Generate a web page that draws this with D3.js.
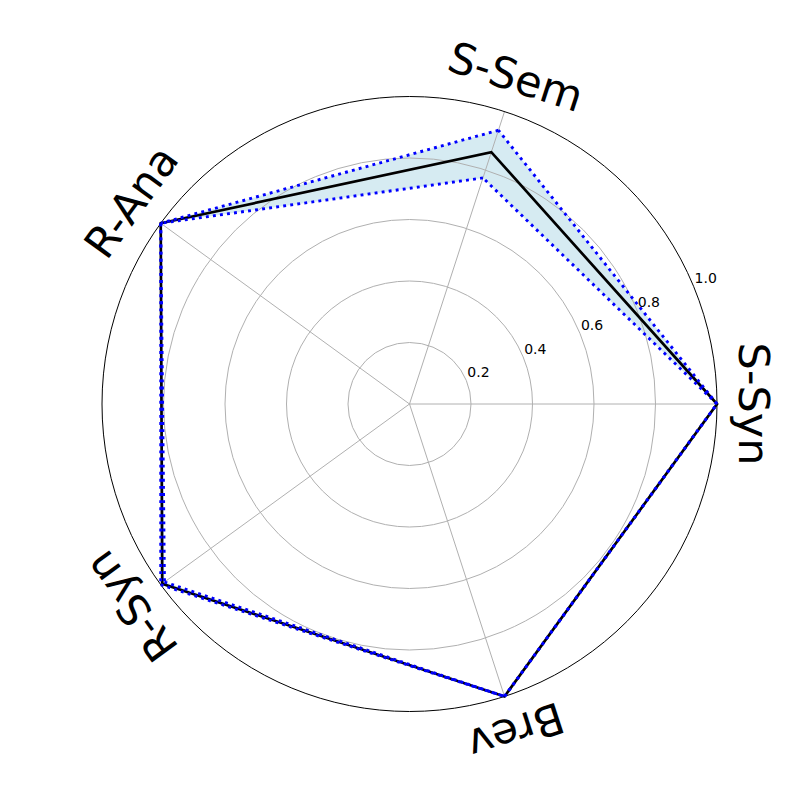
<!DOCTYPE html>
<html>
<head>
<meta charset="utf-8">
<script src="https://cdn.jsdelivr.net/npm/d3@7"></script>
<style>
  html,body{margin:0;padding:0;background:#fff;}
  text{font-family:"DejaVu Sans",sans-serif;}
</style>
</head>
<body>
<div id="chart"></div>
<script>
"use strict"

const categories=["S-Syn","S-Sem","R-Ana","R-Syn","Brev"];
const meanScores=[1.0,0.861,1.0,0.994,1.0];
const upperScores=[1.0,0.936,1.0,1.0,1.0];
const lowerScores=[1.0,0.773,1.0,0.985,1.0];
const radialTicks=[0.2,0.4,0.6,0.8,1.0];

const width=800, height=800;
const cx=409.5, cy=404, outerR=307.5;

const svg=d3.select("#chart").append("svg")
    .attr("width",width).attr("height",height)
    .style("background","#fff");

const g=svg.append("g").attr("transform",`translate(${cx},${cy})`);

const r=d3.scaleLinear().domain([0,1]).range([0,outerR]);
// math angle (ccw from 3 o'clock) for each category
const theta=d3.scaleLinear().domain([0,categories.length]).range([0,2*Math.PI]);
// d3 radial angle: 0 at 12 o'clock, clockwise
const d3Angle=i=>Math.PI/2-theta(i);

const idx=d3.range(categories.length);

// fill between lower and upper
const band=d3.areaRadial()
    .angle(d3Angle)
    .innerRadius(i=>r(lowerScores[i]))
    .outerRadius(i=>r(upperScores[i]))
    .curve(d3.curveLinearClosed);

g.append("path")
    .attr("d",band(idx))
    .attr("fill","#add8e6")
    .attr("fill-opacity",0.5)
    .attr("stroke","none");

// grid circles
g.selectAll(".grid-circle")
    .data(radialTicks.slice(0,-1))
    .enter().append("circle")
    .attr("class","grid-circle")
    .attr("r",d=>r(d))
    .attr("fill","none")
    .attr("stroke","#b0b0b0")
    .attr("stroke-width",1);

// spokes
g.selectAll(".spoke")
    .data(idx)
    .enter().append("line")
    .attr("class","spoke")
    .attr("x1",0).attr("y1",0)
    .attr("x2",i=>r(1)*Math.cos(theta(i)))
    .attr("y2",i=>-r(1)*Math.sin(theta(i)))
    .attr("stroke","#b0b0b0")
    .attr("stroke-width",1);

// outer spine
g.append("circle")
    .attr("r",r(1))
    .attr("fill","none")
    .attr("stroke","#000")
    .attr("stroke-width",1);

// radial tick labels at 22.5deg
const tickAng=22.5*Math.PI/180;
g.selectAll(".rtick")
    .data(radialTicks)
    .enter().append("text")
    .attr("class","rtick")
    .attr("x",d=>r(d)*Math.cos(tickAng)+1)
    .attr("y",d=>-r(d)*Math.sin(tickAng)-3)
    .attr("font-size","14px")
    .attr("fill","#000")
    .text(d=>d.toFixed(1));

const line=d3.lineRadial().angle(d3Angle).curve(d3.curveLinearClosed);

g.append("path")
    .attr("d",line.radius(i=>r(meanScores[i]))(idx))
    .attr("fill","none")
    .attr("stroke","#000")
    .attr("stroke-width",2.7);

// dotted bounds, drawn edge by edge so the dot phase lines up where they overlap
const edge=d3.lineRadial().angle(d=>d3Angle(d.i)).radius(d=>d.r);
[upperScores,lowerScores].forEach(function(vals){
    const edges=idx.map(i=>{
        const j=(i+1)%idx.length;
        return [{i:i,r:r(vals[i])},{i:j,r:r(vals[j])}];
    });
    g.append("g").selectAll("path")
        .data(edges)
        .enter().append("path")
        .attr("d",edge)
        .attr("fill","none")
        .attr("stroke","blue")
        .attr("stroke-width",2.9)
        .attr("stroke-dasharray","2.9 4.2");
});

// category labels, rotated
const labelR=344;
g.selectAll(".cat")
    .data(idx)
    .enter().append("text")
    .attr("class","cat")
    .attr("transform",function(i){
        const x=labelR*Math.cos(theta(i));
        const y=-labelR*Math.sin(theta(i));
        const rot=90-theta(i)*180/Math.PI;
        return `translate(${x},${y}) rotate(${rot})`;
    })
    .attr("text-anchor","middle")
    .attr("dominant-baseline","central")
    .attr("font-size","43px")
    .attr("fill","#000")
    .text(i=>categories[i]);
</script>
</body>
</html>
